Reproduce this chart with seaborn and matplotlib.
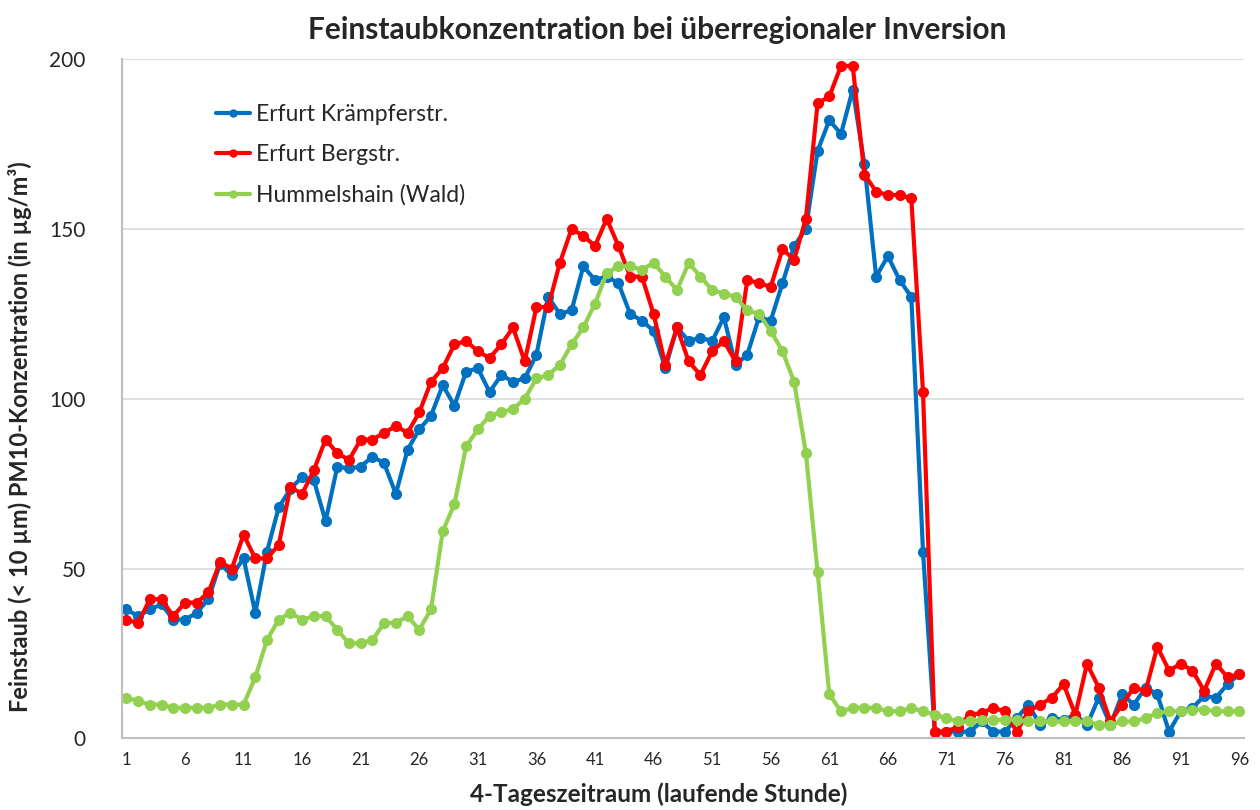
import pandas as pd
import seaborn as sns
import matplotlib.pyplot as plt

# Stundenwerte PM10 (µg/m³), 4 Tage = 96 Stunden
stunden = list(range(1, 97))

kraempferstr = [38, 36, 38, 39.5, 35, 35, 37, 41, 51.5, 48, 53, 37, 55, 68, 73.5, 77,
                76, 64, 80, 79.5, 80, 83, 81, 72, 85, 91, 95, 104, 98, 108, 109, 102,
                107, 105, 106, 113, 130, 125, 126, 139, 135, 136, 134, 125, 123, 120, 109, 121,
                117, 118, 117, 124, 110, 113, 124, 123, 134, 145, 150, 173, 182, 178, 191, 169,
                136, 142, 135, 130, 55, 2, 2, 2, 2, 5, 2, 2, 6, 10, 4, 6,
                5.5, 7, 4, 12, 4, 13, 10, 15, 13, 2, 8, 9, 12.5, 12, 16, 19]

bergstr = [35, 34, 41, 41, 36, 40, 40, 43, 52, 50, 60, 53, 53, 57, 74, 72,
           79, 88, 84, 82, 88, 88, 90, 92, 90, 96, 105, 109, 116, 117, 114, 112,
           116, 121, 111, 127, 127, 140, 150, 148, 145, 153, 145, 136, 136, 125, 110, 121,
           111, 107, 114, 117, 111, 135, 134, 133, 144, 141, 153, 187, 189, 198, 198, 166,
           161, 160, 160, 159, 102, 2, 2, 3.5, 7, 7.5, 9, 8, 2, 8, 10, 12,
           16, 7, 22, 15, 5, 10, 15, 14, 27, 20, 22, 20, 14, 22, 18, 19]

hummelshain = [12, 11, 10, 10, 9, 9, 9, 9, 10, 10, 10, 18, 29, 35, 37, 35,
               36, 36, 32, 28, 28, 29, 34, 34, 36, 32, 38, 61, 69, 86, 91, 95,
               96, 97, 100, 106, 107, 110, 116, 121, 128, 137, 139, 139, 138, 140, 136, 132,
               140, 136, 132, 131, 130, 126, 125, 120, 114, 105, 84, 49, 13, 8, 9, 9,
               9, 8, 8, 9, 8, 7, 6, 5, 5, 5.5, 5.5, 5.5, 5.5, 5, 5, 5,
               5, 5, 5, 4, 4, 5, 5, 6, 7.5, 8, 8, 8.5, 8.5, 8, 8, 8]

stationen = ["Erfurt Krämpferstr.", "Erfurt Bergstr.", "Hummelshain (Wald)"]
farben = ["#0070C0", "#FF0000", "#92D050"]

df = pd.DataFrame({
    "Stunde": stunden * 3,
    "PM10": kraempferstr + bergstr + hummelshain,
    "Station": [stationen[0]] * 96 + [stationen[1]] * 96 + [stationen[2]] * 96,
})

sns.set_style("white")
plt.rcParams["font.family"] = ["Lato", "DejaVu Sans"]

fig = plt.figure(figsize=(12.6, 8.1), dpi=100)
ax = fig.add_axes([0.0968, 0.0883, 0.8905, 0.8387])

sns.lineplot(
    data=df, x="Stunde", y="PM10", hue="Station", hue_order=stationen,
    palette=farben, marker="o", markersize=8, markeredgewidth=0,
    linewidth=3.0, ax=ax, legend=True
)

ax.set_xlim(0.62, 96.4)
ax.set_ylim(0, 200)
ax.set_xticks(range(1, 97, 5))
ax.set_yticks([0, 50, 100, 150, 200])
ax.tick_params(axis="x", labelsize=12, length=0, pad=10)
ax.tick_params(axis="y", labelsize=15, length=0, pad=26)

ax.grid(axis="y", color="#D9D9D9", linewidth=1.2)
ax.set_axisbelow(True)
for s in ["top", "right"]:
    ax.spines[s].set_visible(False)
for s in ["left", "bottom"]:
    ax.spines[s].set_color("#BFBFBF")
    ax.spines[s].set_linewidth(1.5)

ax.set_xlabel("4-Tageszeitraum (laufende Stunde)", fontsize=17.5, fontweight="bold")
ax.xaxis.set_label_coords(0.478, -0.064)
ax.set_ylabel("Feinstaub (< 10 µm) PM10-Konzentration (in µg/m³)", fontsize=17,
              fontweight="bold")
ax.yaxis.set_label_coords(-0.08, 0.444)

leg = ax.legend(loc="upper left", bbox_to_anchor=(0.065, 0.965), frameon=False,
                fontsize=16.5, handlelength=1.5, handletextpad=0.25, labelspacing=0.85)
for h in leg.legend_handles:
    h.set_markersize(6)
    h.set_linewidth(3)

fig.text(0.5214, 0.963, "Feinstaubkonzentration bei überregionaler Inversion",
         ha="center", va="center", fontsize=21.5, fontweight="bold")

fig.savefig("out.png", dpi=100)
